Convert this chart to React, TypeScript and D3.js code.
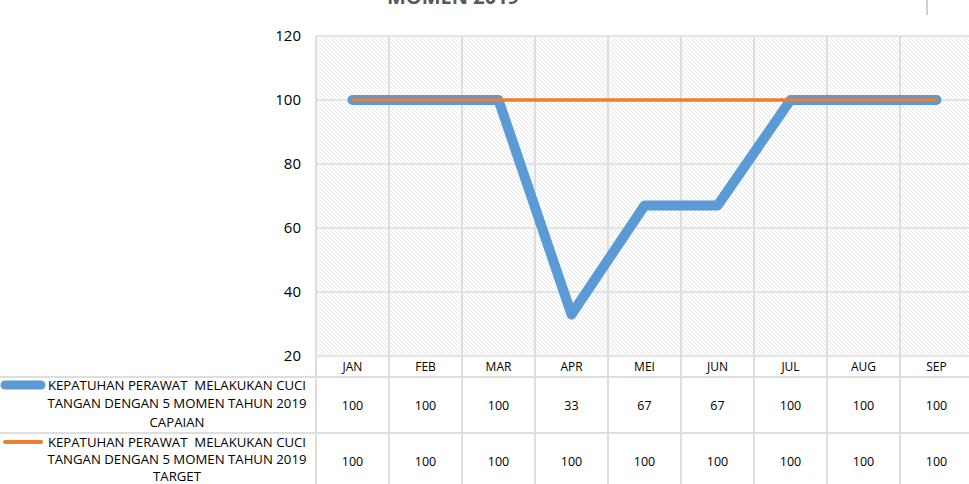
import { useEffect, useRef } from 'react';
import * as d3 from 'd3';

const months = ['JAN', 'FEB', 'MAR', 'APR', 'MEI', 'JUN', 'JUL', 'AUG', 'SEP'];
const capaian = [100, 100, 100, 33, 67, 67, 100, 100, 100];
const target = [100, 100, 100, 100, 100, 100, 100, 100, 100];
const yTicks = [20, 40, 60, 80, 100, 120];
const seriesNames = [
  ['KEPATUHAN PERAWAT  MELAKUKAN CUCI', 'TANGAN DENGAN 5 MOMEN TAHUN 2019', 'CAPAIAN'],
  ['KEPATUHAN PERAWAT  MELAKUKAN CUCI', 'TANGAN DENGAN 5 MOMEN TAHUN 2019', 'TARGET'],
];

const App = () => {
  const ref = useRef<SVGSVGElement>(null!);

  useEffect(() => {
    const width = 969;
    const height = 484;
    const left = 316;
    const top = 36;
    const bottom = 356;
    const font = "'Open Sans', sans-serif";
    const grid = '#dedede';

    const x = d3.scaleBand().domain(months).range([left, left + 73 * months.length]);
    const y = d3.scaleLinear().domain([20, 120]).range([bottom, top]);

    const svg = d3.select(ref.current).attr('width', width).attr('height', height);

    const pat = svg.append('defs').append('pattern')
      .attr('id', 'hatch')
      .attr('patternUnits', 'userSpaceOnUse')
      .attr('width', 4)
      .attr('height', 4);
    pat.append('rect').attr('width', 4).attr('height', 4).attr('fill', '#fff');
    pat.append('path').attr('d', 'M-1,-1 L5,5 M-1,3 L1,5 M3,-1 L5,1')
      .attr('stroke', '#e6e6e6').attr('stroke-width', 1);

    // title (cut off at top)
    svg.append('text').attr('x', 453).attr('y', 4).attr('text-anchor', 'middle')
      .attr('font-family', font).attr('font-size', 20).attr('font-weight', 'bold')
      .attr('fill', '#595959').text('MOMEN 2019');
    svg.append('line').attr('x1', 927).attr('x2', 927).attr('y1', 0).attr('y2', 15)
      .attr('stroke', '#d0d0d0').attr('stroke-width', 2);

    svg.append('rect').attr('x', left).attr('y', top)
      .attr('width', width - left).attr('height', bottom - top).attr('fill', 'url(#hatch)');

    // grid
    svg.append('g').selectAll('line').data(yTicks).enter().append('line')
      .attr('x1', left).attr('x2', width).attr('y1', d => y(d)).attr('y2', d => y(d))
      .attr('stroke', grid).attr('stroke-width', 1.5);
    const bounds = months.map(m => x(m) as number).concat([x.range()[1]]);
    svg.append('g').selectAll('line').data(bounds).enter().append('line')
      .attr('x1', d => d).attr('x2', d => d).attr('y1', top).attr('y2', height)
      .attr('stroke', grid).attr('stroke-width', 2);

    // y labels
    svg.append('g').selectAll('text').data(yTicks).enter().append('text')
      .attr('x', 301).attr('y', d => y(d)).attr('dy', '0.35em').attr('text-anchor', 'end')
      .attr('font-family', font).attr('font-size', 15).attr('fill', '#000')
      .text(d => d);

    // table rows
    const rowLines = [377, 433];
    svg.append('g').selectAll('line').data(rowLines).enter().append('line')
      .attr('x1', 0).attr('x2', width).attr('y1', d => d).attr('y2', d => d)
      .attr('stroke', grid).attr('stroke-width', 2);

    const cx = (m: string) => (x(m) as number) + x.bandwidth() / 2;
    svg.append('g').selectAll('text').data(months).enter().append('text')
      .attr('x', d => cx(d)).attr('y', 367).attr('dy', '0.35em').attr('text-anchor', 'middle')
      .attr('font-family', font).attr('font-size', 12).attr('fill', '#000').text(d => d);

    const rowY = [406, 462];
    [capaian, target].forEach((vals, i) => {
      svg.append('g').selectAll('text').data(vals).enter().append('text')
        .attr('x', (_d, j) => cx(months[j])).attr('y', rowY[i]).attr('dy', '0.35em')
        .attr('text-anchor', 'middle').attr('font-family', font).attr('font-size', 12.5)
        .attr('fill', '#000').text(d => d);
    });

    // legend labels
    const colors = ['#5b9bd5', '#ed7d31'];
    const keyWidth = [9, 4];
    const legTop = [385, 442];
    const legGap = [18.5, 17.2];
    seriesNames.forEach((lines, i) => {
      const t = svg.append('text').attr('font-family', font).attr('font-size', 13.2)
        .attr('fill', '#000').attr('text-anchor', 'middle').style('white-space', 'pre');
      lines.forEach((ln, k) => {
        t.append('tspan').attr('x', 177).attr('y', legTop[i] + k * legGap[i]).attr('dy', '0.35em').text(ln);
      });
      svg.append('line').attr('x1', 5).attr('x2', 41)
        .attr('y1', legTop[i]).attr('y2', legTop[i])
        .attr('stroke', colors[i]).attr('stroke-width', keyWidth[i]).attr('stroke-linecap', 'round');
    });

    // lines
    const line = d3.line<number>().x((_d, j) => cx(months[j])).y(d => y(d));
    svg.append('path').datum(capaian).attr('d', line).attr('fill', 'none')
      .attr('stroke', colors[0]).attr('stroke-width', 10)
      .attr('stroke-linejoin', 'round').attr('stroke-linecap', 'round');
    svg.append('path').datum(target).attr('d', line).attr('fill', 'none')
      .attr('stroke', colors[1]).attr('stroke-width', 3.5)
      .attr('stroke-linejoin', 'round').attr('stroke-linecap', 'round');

    return () => {
      ref.current.innerHTML = '';
    };
  }, []);

  return <svg ref={ref} style={{ position: 'absolute', left: 0, top: 0 }}></svg>;
};

export default App;
